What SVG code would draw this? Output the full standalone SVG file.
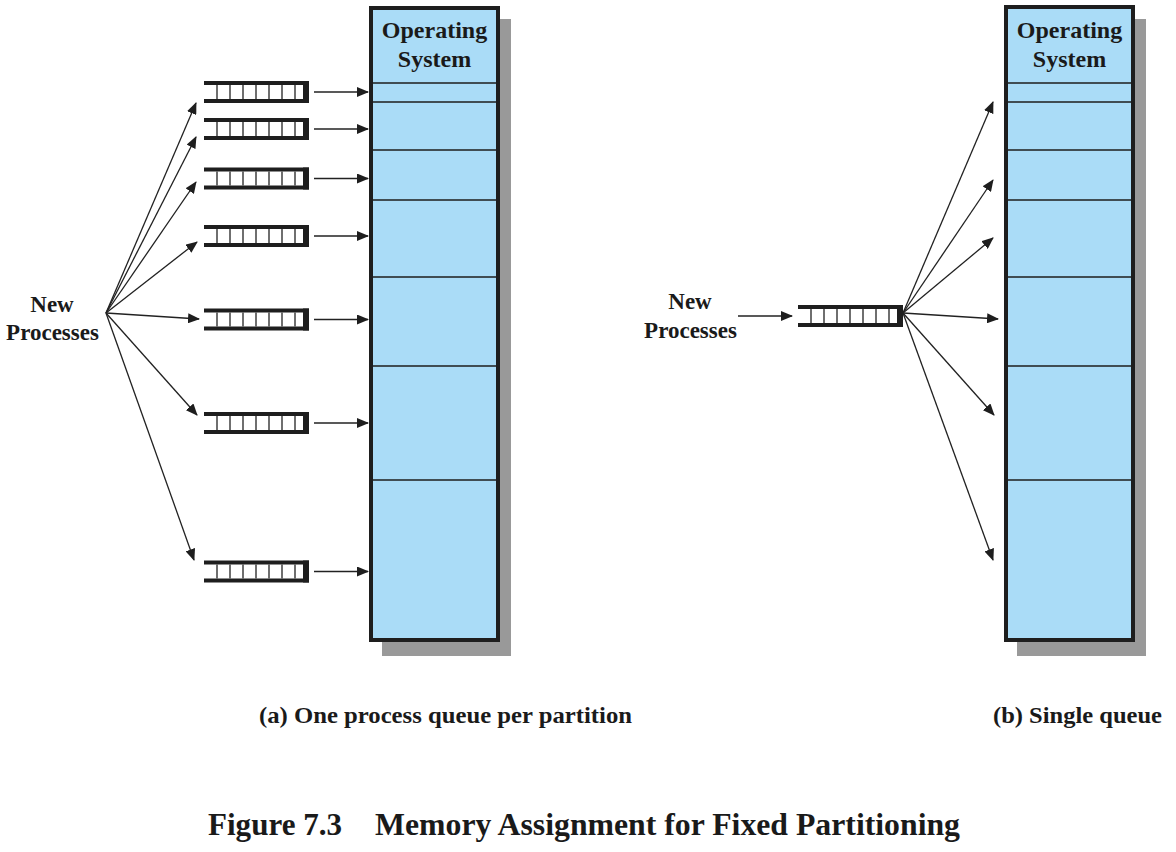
<svg xmlns="http://www.w3.org/2000/svg" xmlns:xlink="http://www.w3.org/1999/xlink" width="1176" height="852" viewBox="0 0 1176 852">
<style>
  .lbl { font-weight: bold; fill: #1a1a1a; }
  .mem { fill: #aadcf7; stroke: #1e1e1e; stroke-width: 4; }
  .shadow { fill: #999999; }
  .part { stroke: #1e1e1e; stroke-width: 1.4; }
  .arrow { stroke: #222; stroke-width: 1.3; fill: none; marker-end: url(#ah); }
</style>
<defs>
  <marker id="ah" markerWidth="12" markerHeight="10" refX="11" refY="5" orient="auto" markerUnits="userSpaceOnUse">
    <path d="M0,0 L12,5 L0,10 z" fill="#1e1e1e"/>
  </marker>
  <g id="queue">
    <rect x="0" y="0" width="105" height="4" fill="#1e1e1e"/>
    <rect x="0" y="18" width="105" height="4" fill="#1e1e1e"/>
    <rect x="99" y="0" width="6" height="22" fill="#1e1e1e"/>
    <path d="M13,4 V18 M26,4 V18 M39,4 V18 M52,4 V18 M65,4 V18 M78,4 V18 M91,4 V18" stroke="#333" stroke-width="1.4"/>
  </g>
</defs>
<rect width="1176" height="852" fill="#ffffff"/>

<g font-family="Liberation Serif, serif">
<g id="memory-a">
  <rect class="shadow" x="382" y="19" width="129" height="637"/>
  <rect class="mem" x="371" y="8" width="127" height="632"/>
  <path class="part" d="M373,83 H496 M373,102 H496 M373,150 H496 M373,200 H496 M373,277 H496 M373,366 H496 M373,480 H496"/>
  <text class="lbl" font-size="24" x="434.5" y="38" text-anchor="middle">Operating</text>
  <text class="lbl" font-size="24" x="434.5" y="67" text-anchor="middle">System</text>
</g>

<g id="queues-a">
  <use xlink:href="#queue" x="204" y="81"/>
  <use xlink:href="#queue" x="204" y="118"/>
  <use xlink:href="#queue" x="204" y="167.5"/>
  <use xlink:href="#queue" x="204" y="225"/>
  <use xlink:href="#queue" x="204" y="308.5"/>
  <use xlink:href="#queue" x="204" y="412"/>
  <use xlink:href="#queue" x="204" y="560.5"/>
</g>

<g id="label-new-a">
  <text class="lbl" font-size="23" x="52" y="312" text-anchor="middle">New</text>
  <text class="lbl" font-size="23" x="52.5" y="340" text-anchor="middle">Processes</text>
</g>

<g id="memory-b">
  <rect class="shadow" x="1017" y="19" width="129" height="637"/>
  <rect class="mem" x="1006" y="7" width="127" height="633"/>
  <path class="part" d="M1008,83 H1131 M1008,102 H1131 M1008,150 H1131 M1008,200 H1131 M1008,277 H1131 M1008,366 H1131 M1008,480 H1131"/>
  <text class="lbl" font-size="24" x="1069.5" y="38" text-anchor="middle">Operating</text>
  <text class="lbl" font-size="24" x="1069.5" y="67" text-anchor="middle">System</text>
</g>

<g id="queue-b">
  <use xlink:href="#queue" x="798" y="305"/>
</g>

<g id="label-new-b">
  <text class="lbl" font-size="23" x="690" y="309" text-anchor="middle">New</text>
  <text class="lbl" font-size="23" x="690.5" y="338" text-anchor="middle">Processes</text>
</g>

<g id="connectors">
  <line class="arrow" x1="106" y1="313" x2="196" y2="103"/>
  <line class="arrow" x1="106" y1="313" x2="196" y2="137"/>
  <line class="arrow" x1="106" y1="313" x2="196" y2="182"/>
  <line class="arrow" x1="106" y1="313" x2="197" y2="242"/>
  <line class="arrow" x1="106" y1="313" x2="199" y2="319"/>
  <line class="arrow" x1="106" y1="313" x2="197" y2="415"/>
  <line class="arrow" x1="106" y1="313" x2="194" y2="560"/>
  <line class="arrow" x1="314" y1="92" x2="368" y2="92"/>
  <line class="arrow" x1="314" y1="129" x2="368" y2="129"/>
  <line class="arrow" x1="314" y1="178.5" x2="368" y2="178.5"/>
  <line class="arrow" x1="314" y1="236" x2="368" y2="236"/>
  <line class="arrow" x1="314" y1="319.5" x2="368" y2="319.5"/>
  <line class="arrow" x1="314" y1="423" x2="368" y2="423"/>
  <line class="arrow" x1="314" y1="571.5" x2="368" y2="571.5"/>
  <line class="arrow" x1="738" y1="316" x2="792" y2="316"/>
  <line class="arrow" x1="903" y1="313" x2="993" y2="102"/>
  <line class="arrow" x1="903" y1="313" x2="993" y2="180"/>
  <line class="arrow" x1="903" y1="313" x2="993" y2="238"/>
  <line class="arrow" x1="903" y1="313" x2="998" y2="319"/>
  <line class="arrow" x1="903" y1="313" x2="994" y2="415"/>
  <line class="arrow" x1="903" y1="313" x2="993" y2="560"/>
</g>

<g id="captions">
  <text class="lbl" font-size="23" x="259" y="723" textLength="373" lengthAdjust="spacingAndGlyphs">(a) One process queue per partition</text>
  <text class="lbl" font-size="23" x="993" y="723" textLength="169" lengthAdjust="spacingAndGlyphs">(b) Single queue</text>
  <text class="lbl" font-size="31" x="208" y="835" textLength="134" lengthAdjust="spacingAndGlyphs">Figure 7.3</text>
  <text class="lbl" font-size="31" x="375" y="835" textLength="585" lengthAdjust="spacingAndGlyphs">Memory Assignment for Fixed Partitioning</text>
</g>
</g>
</svg>
